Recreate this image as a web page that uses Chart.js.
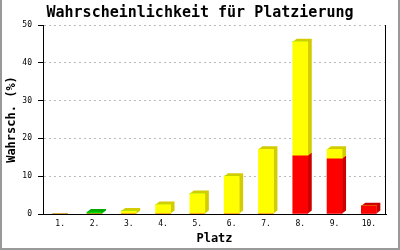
<!DOCTYPE html>
<html>
<head>
<meta charset="utf-8">
<script src="https://cdn.jsdelivr.net/npm/chart.js@4"></script>
<style>
  body { margin: 0; background: #fff; }
  canvas { display: block; background: #fff; }
</style>
</head>
<body>
<canvas id="platz-grafica" width="400" height="250"></canvas>
<script>
const plaetze = ['1.', '2.', '3.', '4.', '5.', '6.', '7.', '8.', '9.', '10.'];
const rot =   [0, 0,   0,   0,   0,   0,    0,    15.4, 14.6, 2.2];
const gelb =  [0, 0,   0.8, 2.5, 5.4, 10.0, 17.1, 30.2, 2.5,  0];
const gruen = [0, 0.5, 0,   0,   0,   0,    0,    0,    0,    0];
const yTicks = [0, 10, 20, 30, 40, 50];

const schrift = 'DejaVu Sans Mono';

// seitliche und obere Flaechen fuer den 3D-Effekt
const tiefe = {
    id: 'tiefe',
    beforeDatasetsDraw(chart) {
        const ctx = chart.ctx;
        const dx = 4, dy = 3;
        chart.data.datasets.forEach((ds, i) => {
            const meta = chart.getDatasetMeta(i);
            meta.data.forEach((bar, j) => {
                if (!ds.data[j]) return;
                const p = bar.getProps(['x', 'y', 'base', 'width'], true);
                const l = p.x - p.width / 2, r = p.x + p.width / 2;
                ctx.save();
                ctx.fillStyle = ds.seite;
                ctx.beginPath();
                ctx.moveTo(r, p.base);
                ctx.lineTo(r + dx, p.base - dy);
                ctx.lineTo(r + dx, p.y - dy);
                ctx.lineTo(l + dx, p.y - dy);
                ctx.lineTo(l, p.y);
                ctx.lineTo(r, p.y);
                ctx.closePath();
                ctx.fill();
                ctx.restore();
            });
        });
    },
    afterDraw(chart) {
        const ctx = chart.ctx;
        const a = chart.chartArea;
        ctx.save();
        ctx.strokeStyle = '#000';
        ctx.lineWidth = 1;
        ctx.beginPath();
        ctx.moveTo(a.right - 0.5, a.top);
        ctx.lineTo(a.right - 0.5, a.bottom);
        ctx.stroke();
        ctx.fillStyle = '#999999';
        ctx.fillRect(0, 0, 2, 250);
        ctx.fillRect(398, 0, 2, 250);
        ctx.fillRect(0, 248, 400, 2);
        ctx.restore();
    }
};

new Chart(document.getElementById('platz-grafica'), {
    type: 'bar',
    data: {
        labels: plaetze,
        datasets: [
            { data: rot, backgroundColor: '#ff0000', seite: '#cc0000', barThickness: 15 },
            { data: gelb, backgroundColor: '#ffff00', seite: '#d2cc00', barThickness: 15 },
            { data: gruen, backgroundColor: '#00dd00', seite: '#00aa00', barThickness: 15 }
        ]
    },
    options: {
        responsive: false,
        animation: false,
        layout: { padding: 0 },
        plugins: {
            legend: { display: false },
            tooltip: { enabled: false },
            title: {
                display: true,
                text: 'Wahrscheinlichkeit für Platzierung',
                color: '#000',
                font: { family: schrift, size: 15, weight: 'bold', lineHeight: 1 },
                padding: { top: 6, bottom: 4 }
            }
        },
        scales: {
            x: {
                stacked: true,
                afterFit(s) { s.height = 36; },
                grid: { display: false, drawTicks: false },
                border: { color: '#000', width: 1 },
                ticks: { color: '#000', padding: 5, font: { family: schrift, size: 8 } },
                title: {
                    display: true,
                    text: 'Platz',
                    color: '#000',
                    font: { family: schrift, size: 12, weight: 'bold', lineHeight: 1 },
                    padding: { top: 0, bottom: 5 }
                }
            },
            y: {
                stacked: true,
                min: 0,
                max: 50,
                afterFit(s) { s.width = 43; },
                afterBuildTicks(s) { s.ticks = yTicks.map(v => ({ value: v })); },
                grid: {
                    color: c => c.tick && c.tick.value === 0 ? 'rgba(0,0,0,0)' : '#bbbbbb',
                    tickColor: '#000',
                    tickLength: 5
                },
                border: { color: '#000', width: 1, dash: [2, 3] },
                ticks: { color: '#000', padding: 6, font: { family: schrift, size: 8 } },
                title: {
                    display: true,
                    text: 'Wahrsch. (%)',
                    color: '#000',
                    font: { family: schrift, size: 12, weight: 'bold', lineHeight: 1 },
                    padding: { top: 6, bottom: 0 }
                }
            },
            rechts: {
                position: 'right',
                min: 0,
                max: 50,
                afterFit(s) { s.width = 14; },
                grid: { display: false, drawTicks: false },
                border: { display: false },
                ticks: { display: false }
            }
        }
    },
    plugins: [tiefe]
});
</script>
</body>
</html>
